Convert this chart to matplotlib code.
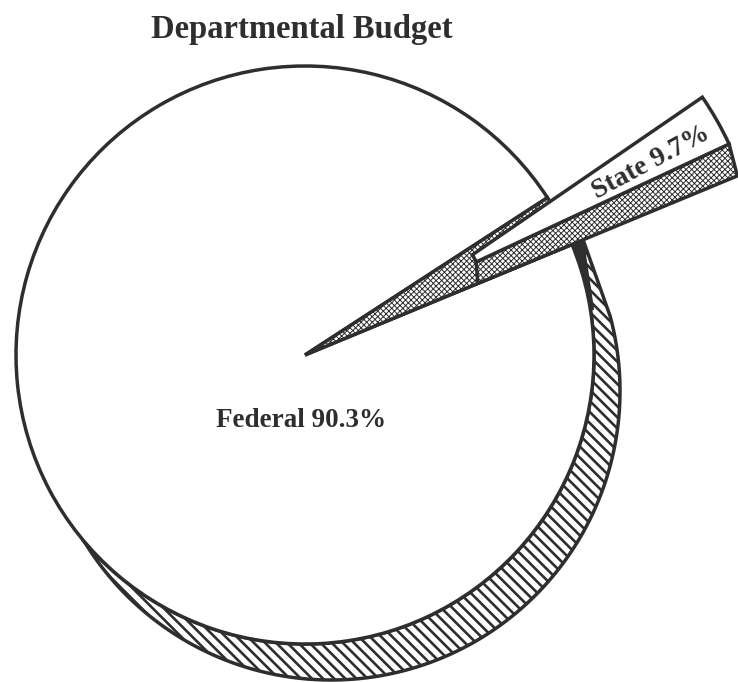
import numpy as np
import matplotlib
matplotlib.use('Agg')
import matplotlib.pyplot as plt
from matplotlib.patches import Wedge, Polygon

# ---------------- data ----------------
title = "Departmental Budget"
categories = ["Federal", "State"]
shares = [90.3, 9.7]

# ---------------- style / geometry ----------------
W, H = 738, 682
INK = '#2e2e2e'
LW = 2.5
SERIF = ['Liberation Serif', 'DejaVu Serif']

fig = plt.figure(figsize=(W / 100, H / 100), dpi=100)
ax = fig.add_axes([0, 0, 1, 1])
ax.set_xlim(0, W)
ax.set_ylim(0, H)
ax.set_aspect('equal')
ax.axis('off')

C = np.array([305.0, 327.0])   # pie centre
r = 289.0                      # pie radius
depth = np.array([26.0, -36.0])  # extrusion of the disc (3-D look)

# the illustration squeezes the State slice; keep its proportions
state_deg = 360 * shares[1] / 100
gap_lo = 22.5
gap_hi = gap_lo + state_deg * 0.30
w_lo = gap_lo + 2.5
w_hi = w_lo + state_deg * 0.27
explode = 146.0
R_slice = 328.0
rho = 49.0


def pt(c, rad, deg):
    t = np.radians(deg)
    return np.array([c[0] + rad * np.cos(t), c[1] + rad * np.sin(t)])


def arc(c, rad, a0, a1, n=300):
    t = np.radians(np.linspace(a0, a1, n))
    return np.column_stack([c[0] + rad * np.cos(t), c[1] + rad * np.sin(t)])


# intersection of top circle and extruded circle (left side)
dlen = np.hypot(*depth)
du = depth / dlen
nperp = np.array([du[1], -du[0]])
h = np.sqrt(r ** 2 - (dlen / 2) ** 2)
I = C + depth / 2 + h * nperp
a_top = np.degrees(np.arctan2(*(I - C)[::-1]))
a_sh = np.degrees(np.arctan2(*(I - (C + depth))[::-1]))

# ---- side band (hatched) ----
E = pt(C, r + 12, gap_lo)
band = np.vstack([arc(C, r, gap_lo, a_top), arc(C + depth, r, a_sh, 15), [E]])
with plt.rc_context({'hatch.linewidth': 1.9}):
    ax.add_patch(Polygon(band, closed=True, facecolor='white', edgecolor=INK,
                         lw=LW, hatch='\\' * 3, zorder=1))

# dark sliver at the right end of the band
Pp = pt(C, r, gap_lo)
Q = pt(C, r + 3, 9)
sliver = np.vstack([[Pp], [E], [Q], arc(C, r, 9, gap_lo)])
ax.add_patch(Polygon(sliver, closed=True, facecolor=INK, edgecolor=INK,
                     lw=1.0, zorder=2))

# ---- Federal top face ----
ax.add_patch(Wedge(C, r, gap_hi, gap_lo + 360, facecolor='white',
                   edgecolor=INK, lw=LW, zorder=3))

DOTS = 'x' * 6
# ---- gap (cut faces) dotted ----
with plt.rc_context({'hatch.linewidth': 0.7}):
    ax.add_patch(Wedge(C, r, gap_lo, gap_hi, facecolor='white', edgecolor=INK,
                       lw=LW, hatch=DOTS, zorder=4))

# ---- exploded State slice ----
A = C + explode * np.array([np.cos(np.radians((w_lo + w_hi) / 2)),
                            np.sin(np.radians((w_lo + w_hi) / 2))])
side = np.vstack([pt(A, rho, w_lo), pt(C, 187, gap_lo), pt(C, 468, gap_lo),
                  pt(A, R_slice, w_lo)])
with plt.rc_context({'hatch.linewidth': 0.7}):
    ax.add_patch(Polygon(side, closed=True, facecolor='white', edgecolor=INK,
                         lw=LW, hatch=DOTS, zorder=5))
ax.add_patch(Wedge(A, R_slice, w_lo, w_hi, width=R_slice - rho,
                   facecolor='white', edgecolor=INK, lw=LW, zorder=6))

# ---- text ----
ax.text(302, H - 38, title, ha='center', va='baseline', fontsize=23.5,
        fontweight='bold', family=SERIF, color=INK, zorder=10)
ax.text(301, H - 427, f"{categories[0]} {shares[0]}%", ha='center',
        va='baseline', fontsize=19.5, fontweight='bold', family=SERIF,
        color=INK, zorder=10)
mid = (w_lo + w_hi) / 2
lab = pt(A, 250, mid - 0.9)
ax.text(lab[0], lab[1], f"{categories[1]} {shares[1]}%", ha='center',
        va='center', rotation=mid - 1.5, rotation_mode='anchor',
        fontsize=20, fontweight='bold', family=SERIF, color=INK, zorder=10)

fig.savefig('out.png', dpi=100)
